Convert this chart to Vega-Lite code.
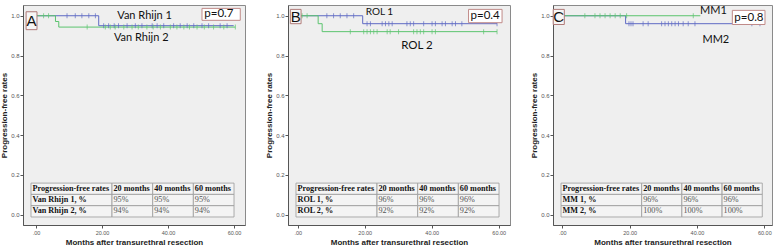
{
"$schema": "https://vega.github.io/schema/vega-lite/v6.json",
"padding": {"left": 0, "top": 4, "right": 0, "bottom": 0},
"bounds": "flush",
"spacing": 43,
"datasets": {
"steps": [
{"panel":"A","group":"Van Rhijn 1","t":0,"s":1},{"panel":"A","group":"Van Rhijn 1","t":19,"s":0.95},{"panel":"A","group":"Van Rhijn 1","t":59.9,"s":0.95},
{"panel":"A","group":"Van Rhijn 2","t":0,"s":1},{"panel":"A","group":"Van Rhijn 2","t":5.9,"s":0.971},{"panel":"A","group":"Van Rhijn 2","t":6.9,"s":0.943},{"panel":"A","group":"Van Rhijn 2","t":60.4,"s":0.943},
{"panel":"B","group":"ROL 1","t":0,"s":1},{"panel":"B","group":"ROL 1","t":19.4,"s":0.96},{"panel":"B","group":"ROL 1","t":59.5,"s":0.96},
{"panel":"B","group":"ROL 2","t":0,"s":1},{"panel":"B","group":"ROL 2","t":6.1,"s":0.96},{"panel":"B","group":"ROL 2","t":7.3,"s":0.92},{"panel":"B","group":"ROL 2","t":59.5,"s":0.92},
{"panel":"C","group":"MM2","t":0,"s":1},{"panel":"C","group":"MM2","t":18.8,"s":0.96},{"panel":"C","group":"MM2","t":59.2,"s":0.96},
{"panel":"C","group":"MM1","t":0,"s":1},{"panel":"C","group":"MM1","t":41,"s":1}
],
"cens": [
{"panel":"A","group":"Van Rhijn 1","t":9.4,"s":1},{"panel":"A","group":"Van Rhijn 1","t":11.9,"s":1},{"panel":"A","group":"Van Rhijn 1","t":13.9,"s":1},{"panel":"A","group":"Van Rhijn 1","t":16,"s":1},{"panel":"A","group":"Van Rhijn 1","t":18,"s":1},
{"panel":"A","group":"Van Rhijn 1","t":20.5,"s":0.95},{"panel":"A","group":"Van Rhijn 1","t":22,"s":0.95},{"panel":"A","group":"Van Rhijn 1","t":23.7,"s":0.95},{"panel":"A","group":"Van Rhijn 1","t":25,"s":0.95},{"panel":"A","group":"Van Rhijn 1","t":27.6,"s":0.95},{"panel":"A","group":"Van Rhijn 1","t":30.1,"s":0.95},{"panel":"A","group":"Van Rhijn 1","t":32.1,"s":0.95},{"panel":"A","group":"Van Rhijn 1","t":35.2,"s":0.95},{"panel":"A","group":"Van Rhijn 1","t":36.7,"s":0.95},{"panel":"A","group":"Van Rhijn 1","t":38.7,"s":0.95},{"panel":"A","group":"Van Rhijn 1","t":41.7,"s":0.95},{"panel":"A","group":"Van Rhijn 1","t":43.7,"s":0.95},{"panel":"A","group":"Van Rhijn 1","t":45.8,"s":0.95},{"panel":"A","group":"Van Rhijn 1","t":47.8,"s":0.95},{"panel":"A","group":"Van Rhijn 1","t":50.3,"s":0.95},{"panel":"A","group":"Van Rhijn 1","t":52.3,"s":0.95},{"panel":"A","group":"Van Rhijn 1","t":55.8,"s":0.95},{"panel":"A","group":"Van Rhijn 1","t":57.9,"s":0.95},
{"panel":"A","group":"Van Rhijn 2","t":2.3,"s":1},{"panel":"A","group":"Van Rhijn 2","t":3.8,"s":1},
{"panel":"A","group":"Van Rhijn 2","t":15.5,"s":0.943},{"panel":"A","group":"Van Rhijn 2","t":21,"s":0.943},{"panel":"A","group":"Van Rhijn 2","t":22.5,"s":0.943},{"panel":"A","group":"Van Rhijn 2","t":24,"s":0.943},{"panel":"A","group":"Van Rhijn 2","t":26.6,"s":0.943},{"panel":"A","group":"Van Rhijn 2","t":29.1,"s":0.943},{"panel":"A","group":"Van Rhijn 2","t":31,"s":0.943},{"panel":"A","group":"Van Rhijn 2","t":33.6,"s":0.943},{"panel":"A","group":"Van Rhijn 2","t":35.5,"s":0.943},{"panel":"A","group":"Van Rhijn 2","t":37.7,"s":0.943},{"panel":"A","group":"Van Rhijn 2","t":40.7,"s":0.943},{"panel":"A","group":"Van Rhijn 2","t":42.7,"s":0.943},{"panel":"A","group":"Van Rhijn 2","t":44.8,"s":0.943},{"panel":"A","group":"Van Rhijn 2","t":46.5,"s":0.943},{"panel":"A","group":"Van Rhijn 2","t":48.8,"s":0.943},{"panel":"A","group":"Van Rhijn 2","t":51,"s":0.943},{"panel":"A","group":"Van Rhijn 2","t":53.8,"s":0.943},{"panel":"A","group":"Van Rhijn 2","t":56.9,"s":0.943},{"panel":"A","group":"Van Rhijn 2","t":60.4,"s":0.943},
{"panel":"B","group":"ROL 1","t":8.7,"s":1},{"panel":"B","group":"ROL 1","t":10.7,"s":1},{"panel":"B","group":"ROL 1","t":12.7,"s":1},{"panel":"B","group":"ROL 1","t":14.7,"s":1},{"panel":"B","group":"ROL 1","t":16.7,"s":1},
{"panel":"B","group":"ROL 1","t":20.7,"s":0.96},{"panel":"B","group":"ROL 1","t":21.7,"s":0.96},{"panel":"B","group":"ROL 1","t":25.2,"s":0.96},{"panel":"B","group":"ROL 1","t":26.2,"s":0.96},{"panel":"B","group":"ROL 1","t":27.2,"s":0.96},{"panel":"B","group":"ROL 1","t":28.2,"s":0.96},{"panel":"B","group":"ROL 1","t":32.6,"s":0.96},{"panel":"B","group":"ROL 1","t":33.6,"s":0.96},{"panel":"B","group":"ROL 1","t":34.6,"s":0.96},{"panel":"B","group":"ROL 1","t":37.6,"s":0.96},{"panel":"B","group":"ROL 1","t":40.1,"s":0.96},{"panel":"B","group":"ROL 1","t":41.1,"s":0.96},{"panel":"B","group":"ROL 1","t":43.1,"s":0.96},{"panel":"B","group":"ROL 1","t":44.1,"s":0.96},{"panel":"B","group":"ROL 1","t":46.1,"s":0.96},{"panel":"B","group":"ROL 1","t":47.1,"s":0.96},{"panel":"B","group":"ROL 1","t":49,"s":0.96},{"panel":"B","group":"ROL 1","t":59.5,"s":0.96},
{"panel":"B","group":"ROL 2","t":1.3,"s":1},{"panel":"B","group":"ROL 2","t":2.8,"s":1},
{"panel":"B","group":"ROL 2","t":15.7,"s":0.92},{"panel":"B","group":"ROL 2","t":19.7,"s":0.92},{"panel":"B","group":"ROL 2","t":20.7,"s":0.92},{"panel":"B","group":"ROL 2","t":21.7,"s":0.92},{"panel":"B","group":"ROL 2","t":22.7,"s":0.92},{"panel":"B","group":"ROL 2","t":23.7,"s":0.92},{"panel":"B","group":"ROL 2","t":26.7,"s":0.92},{"panel":"B","group":"ROL 2","t":27.6,"s":0.92},{"panel":"B","group":"ROL 2","t":30.1,"s":0.92},{"panel":"B","group":"ROL 2","t":34.6,"s":0.92},{"panel":"B","group":"ROL 2","t":35.6,"s":0.92},{"panel":"B","group":"ROL 2","t":36.6,"s":0.92},{"panel":"B","group":"ROL 2","t":37.6,"s":0.92},{"panel":"B","group":"ROL 2","t":40.1,"s":0.92},{"panel":"B","group":"ROL 2","t":41.1,"s":0.92},{"panel":"B","group":"ROL 2","t":55.5,"s":0.92},{"panel":"B","group":"ROL 2","t":59.5,"s":0.92},
{"panel":"C","group":"MM2","t":19.8,"s":0.96},{"panel":"C","group":"MM2","t":20.4,"s":0.96},{"panel":"C","group":"MM2","t":21,"s":0.96},{"panel":"C","group":"MM2","t":24,"s":0.96},{"panel":"C","group":"MM2","t":25.5,"s":0.96},{"panel":"C","group":"MM2","t":29.5,"s":0.96},{"panel":"C","group":"MM2","t":30.5,"s":0.96},{"panel":"C","group":"MM2","t":31.5,"s":0.96},{"panel":"C","group":"MM2","t":32.5,"s":0.96},{"panel":"C","group":"MM2","t":33.5,"s":0.96},{"panel":"C","group":"MM2","t":34.5,"s":0.96},{"panel":"C","group":"MM2","t":35.9,"s":0.96},{"panel":"C","group":"MM2","t":37.4,"s":0.96},{"panel":"C","group":"MM2","t":39.4,"s":0.96},{"panel":"C","group":"MM2","t":56.3,"s":0.96},{"panel":"C","group":"MM2","t":58.7,"s":0.96},
{"panel":"C","group":"MM1","t":6.7,"s":1},{"panel":"C","group":"MM1","t":9.7,"s":1},{"panel":"C","group":"MM1","t":11.2,"s":1},{"panel":"C","group":"MM1","t":12.7,"s":1},{"panel":"C","group":"MM1","t":14.2,"s":1},{"panel":"C","group":"MM1","t":15.7,"s":1},{"panel":"C","group":"MM1","t":17.2,"s":1},{"panel":"C","group":"MM1","t":19.1,"s":1},{"panel":"C","group":"MM1","t":38.9,"s":1}
],
"table": [
{"panel":"A","row":"h","col":"label","text":"Progression-free rates"},{"panel":"A","row":"h","col":"20 months","text":"20 months"},{"panel":"A","row":"h","col":"40 months","text":"40 months"},{"panel":"A","row":"h","col":"60 months","text":"60 months"},
{"panel":"A","row":"g1","col":"label","text":"Van Rhijn 1, %"},{"panel":"A","row":"g1","col":"20 months","text":"95%"},{"panel":"A","row":"g1","col":"40 months","text":"95%"},{"panel":"A","row":"g1","col":"60 months","text":"95%"},
{"panel":"A","row":"g2","col":"label","text":"Van Rhijn 2, %"},{"panel":"A","row":"g2","col":"20 months","text":"94%"},{"panel":"A","row":"g2","col":"40 months","text":"94%"},{"panel":"A","row":"g2","col":"60 months","text":"94%"},
{"panel":"B","row":"h","col":"label","text":"Progression-free rates"},{"panel":"B","row":"h","col":"20 months","text":"20 months"},{"panel":"B","row":"h","col":"40 months","text":"40 months"},{"panel":"B","row":"h","col":"60 months","text":"60 months"},
{"panel":"B","row":"g1","col":"label","text":"ROL 1, %"},{"panel":"B","row":"g1","col":"20 months","text":"96%"},{"panel":"B","row":"g1","col":"40 months","text":"96%"},{"panel":"B","row":"g1","col":"60 months","text":"96%"},
{"panel":"B","row":"g2","col":"label","text":"ROL 2, %"},{"panel":"B","row":"g2","col":"20 months","text":"92%"},{"panel":"B","row":"g2","col":"40 months","text":"92%"},{"panel":"B","row":"g2","col":"60 months","text":"92%"},
{"panel":"C","row":"h","col":"label","text":"Progression-free rates"},{"panel":"C","row":"h","col":"20 months","text":"20 months"},{"panel":"C","row":"h","col":"40 months","text":"40 months"},{"panel":"C","row":"h","col":"60 months","text":"60 months"},
{"panel":"C","row":"g1","col":"label","text":"MM 1, %"},{"panel":"C","row":"g1","col":"20 months","text":"96%"},{"panel":"C","row":"g1","col":"40 months","text":"96%"},{"panel":"C","row":"g1","col":"60 months","text":"96%"},
{"panel":"C","row":"g2","col":"label","text":"MM 2, %"},{"panel":"C","row":"g2","col":"20 months","text":"100%"},{"panel":"C","row":"g2","col":"40 months","text":"100%"},{"panel":"C","row":"g2","col":"60 months","text":"100%"}
]
},
"hconcat": [
{
"width": 222, "height": 220,
"layer": [
{"layer": [
{"data": {"name": "steps"}, "transform": [{"filter": "datum.panel == 'A'"}],
 "mark": {"type": "line", "interpolate": "step-after", "strokeWidth": 1},
 "encoding": {
  "x": {"field": "t", "type": "quantitative", "scale": {"domain": [-3.94, 63.33], "nice": false, "zero": false}, "axis": {"title": "Months after transurethral resection", "values": [0,10,20,30,40,50,60], "labelExpr": "datum.value == 0 ? '.00' : format(datum.value, '.2f')"}},
  "y": {"field": "s", "type": "quantitative", "scale": {"domain": [-0.052, 1.054], "nice": false, "zero": false}, "axis": {"title": "Progression-free rates", "values": [0,0.2,0.4,0.6,0.8,1], "format": ".1f"}},
  "color": {"field": "group", "type": "nominal", "scale": {"domain": ["Van Rhijn 1", "Van Rhijn 2"], "range": ["#5f6bc4", "#5cc46f"]}, "legend": null}
 }},
{"data": {"name": "cens"}, "transform": [{"filter": "datum.panel == 'A'"}],
 "mark": {"type": "tick", "orient": "vertical", "size": 5, "thickness": 1},
 "encoding": {"x": {"field": "t", "type": "quantitative"}, "y": {"field": "s", "type": "quantitative"}, "color": {"field": "group", "type": "nominal", "legend": null}}},
{"data": {"values": [{}]}, "mark": {"type": "rect", "fill": "#f6f6f6", "stroke": "#b07a78", "strokeWidth": 1},
 "encoding": {"x": {"datum": -3.0}, "x2": {"datum": 0.3}, "y": {"datum": 1.02}, "y2": {"datum": 0.93}}},
{"data": {"values": [{}]}, "mark": {"type": "text", "text": "A", "font": "Liberation Sans", "fontSize": 15, "color": "#111", "align": "center", "baseline": "middle"},
 "encoding": {"x": {"datum": -1.35}, "y": {"datum": 0.975}}},
{"data": {"values": [{}]}, "mark": {"type": "rect", "fill": "#ffffff", "stroke": "#c08a88", "strokeWidth": 1},
 "encoding": {"x": {"datum": 50.3}, "x2": {"datum": 61.9}, "y": {"datum": 1.037}, "y2": {"datum": 0.977}}},
{"data": {"values": [{}]}, "mark": {"type": "text", "text": "p=0.7", "font": "Lato", "fontSize": 11.5, "color": "#111", "align": "left", "baseline": "middle"},
 "encoding": {"x": {"datum": 51.0}, "y": {"datum": 1.007}}},
{"data": {"values": [{}]}, "mark": {"type": "text", "text": "Van Rhijn 1", "font": "Lato", "fontSize": 11, "color": "#111", "align": "center", "baseline": "middle"},
 "encoding": {"x": {"datum": 32.9}, "y": {"datum": 1.0}}},
{"data": {"values": [{}]}, "mark": {"type": "text", "text": "Van Rhijn 2", "font": "Lato", "fontSize": 11, "color": "#111", "align": "center", "baseline": "middle"},
 "encoding": {"x": {"datum": 31.9}, "y": {"datum": 0.886}}}
]},
{"data": {"name": "table"}, "transform": [{"filter": "datum.panel == 'A' && datum.col == 'label'"}],
 "mark": {"type": "rect", "fill": "#f4f4f4", "stroke": "#9a9a9a", "strokeWidth": 0.8},
 "encoding": {
  "x": {"field": "col", "type": "nominal", "scale": {"type": "band", "domain": ["label"], "paddingInner": 0, "paddingOuter": 0.8704, "align": 0.0567}, "axis": null},
  "y": {"field": "row", "type": "nominal", "scale": {"type": "band", "domain": ["_1","_2","_3","_4","_5","_6","_7","_8","_9","_10","_11","_12","_13","_14","_15","h","g1","g2"], "paddingInner": 0, "paddingOuter": 0.7345, "align": 0.518}, "axis": null}}},
{"data": {"name": "table"}, "transform": [{"filter": "datum.panel == 'A' && datum.col != 'label'"}],
 "mark": {"type": "rect", "fill": "#f4f4f4", "stroke": "#9a9a9a", "strokeWidth": 0.8},
 "encoding": {
  "x": {"field": "col", "type": "nominal", "scale": {"type": "band", "domain": ["_a","20 months","40 months","60 months"], "paddingInner": 0, "paddingOuter": 0.7295, "align": 0.815}, "axis": null},
  "y": {"field": "row", "type": "nominal", "scale": {"type": "band", "domain": ["_1","_2","_3","_4","_5","_6","_7","_8","_9","_10","_11","_12","_13","_14","_15","h","g1","g2"], "paddingInner": 0, "paddingOuter": 0.7345, "align": 0.518}, "axis": null}}},
{"data": {"name": "table"}, "transform": [{"filter": "datum.panel == 'A' && datum.col == 'label'"}],
 "mark": {"type": "text", "align": "left", "baseline": "middle", "dx": 1.5, "font": "Liberation Serif", "fontWeight": "bold", "fontSize": 8.2, "color": "#111"},
 "encoding": {
  "x": {"field": "col", "type": "nominal", "bandPosition": 0, "scale": {"type": "band", "domain": ["label"], "paddingInner": 0, "paddingOuter": 0.8704, "align": 0.0567}, "axis": null},
  "y": {"field": "row", "type": "nominal", "scale": {"type": "band", "domain": ["_1","_2","_3","_4","_5","_6","_7","_8","_9","_10","_11","_12","_13","_14","_15","h","g1","g2"], "paddingInner": 0, "paddingOuter": 0.7345, "align": 0.518}, "axis": null},
  "text": {"field": "text"}}},
{"data": {"name": "table"}, "transform": [{"filter": "datum.panel == 'A' && datum.col != 'label' && datum.row == 'h'"}],
 "mark": {"type": "text", "align": "left", "baseline": "middle", "dx": 1.5, "font": "Liberation Serif", "fontWeight": "bold", "fontSize": 8.2, "color": "#111"},
 "encoding": {
  "x": {"field": "col", "type": "nominal", "bandPosition": 0, "scale": {"type": "band", "domain": ["_a","20 months","40 months","60 months"], "paddingInner": 0, "paddingOuter": 0.7295, "align": 0.815}, "axis": null},
  "y": {"field": "row", "type": "nominal", "scale": {"type": "band", "domain": ["_1","_2","_3","_4","_5","_6","_7","_8","_9","_10","_11","_12","_13","_14","_15","h","g1","g2"], "paddingInner": 0, "paddingOuter": 0.7345, "align": 0.518}, "axis": null},
  "text": {"field": "text"}}},
{"data": {"name": "table"}, "transform": [{"filter": "datum.panel == 'A' && datum.col != 'label' && datum.row != 'h'"}],
 "mark": {"type": "text", "align": "left", "baseline": "middle", "dx": 1.5, "font": "Liberation Serif", "fontSize": 8.2, "color": "#555"},
 "encoding": {
  "x": {"field": "col", "type": "nominal", "bandPosition": 0, "scale": {"type": "band", "domain": ["_a","20 months","40 months","60 months"], "paddingInner": 0, "paddingOuter": 0.7295, "align": 0.815}, "axis": null},
  "y": {"field": "row", "type": "nominal", "scale": {"type": "band", "domain": ["_1","_2","_3","_4","_5","_6","_7","_8","_9","_10","_11","_12","_13","_14","_15","h","g1","g2"], "paddingInner": 0, "paddingOuter": 0.7345, "align": 0.518}, "axis": null},
  "text": {"field": "text"}}}
],
"resolve": {"scale": {"x": "independent", "y": "independent"}}
},
{
"width": 222, "height": 220,
"layer": [
{"layer": [
{"data": {"name": "steps"}, "transform": [{"filter": "datum.panel == 'B'"}],
 "mark": {"type": "line", "interpolate": "step-after", "strokeWidth": 1},
 "encoding": {
  "x": {"field": "t", "type": "quantitative", "scale": {"domain": [-2.9, 63.37], "nice": false, "zero": false}, "axis": {"title": "Months after transurethral resection", "values": [0,10,20,30,40,50,60], "labelExpr": "datum.value == 0 ? '.00' : format(datum.value, '.2f')"}},
  "y": {"field": "s", "type": "quantitative", "scale": {"domain": [-0.052, 1.054], "nice": false, "zero": false}, "axis": {"title": "Progression-free rates", "values": [0,0.2,0.4,0.6,0.8,1], "format": ".1f"}},
  "color": {"field": "group", "type": "nominal", "scale": {"domain": ["ROL 1", "ROL 2"], "range": ["#5f6bc4", "#5cc46f"]}, "legend": null}
 }},
{"data": {"name": "cens"}, "transform": [{"filter": "datum.panel == 'B'"}],
 "mark": {"type": "tick", "orient": "vertical", "size": 5, "thickness": 1},
 "encoding": {"x": {"field": "t", "type": "quantitative"}, "y": {"field": "s", "type": "quantitative"}, "color": {"field": "group", "type": "nominal", "legend": null}}},
{"data": {"values": [{}]}, "mark": {"type": "rect", "fill": "#f6f6f6", "stroke": "#b07a78", "strokeWidth": 1},
 "encoding": {"x": {"datum": -2.2}, "x2": {"datum": 1.0}, "y": {"datum": 1.032}, "y2": {"datum": 0.96}}},
{"data": {"values": [{}]}, "mark": {"type": "text", "text": "B", "font": "Liberation Sans", "fontSize": 15, "color": "#111", "align": "center", "baseline": "middle"},
 "encoding": {"x": {"datum": -0.6}, "y": {"datum": 0.996}}},
{"data": {"values": [{}]}, "mark": {"type": "rect", "fill": "#ffffff", "stroke": "#c08a88", "strokeWidth": 1},
 "encoding": {"x": {"datum": 51}, "x2": {"datum": 61}, "y": {"datum": 1.032}, "y2": {"datum": 0.965}}},
{"data": {"values": [{}]}, "mark": {"type": "text", "text": "p=0.4", "font": "Lato", "fontSize": 11.5, "color": "#111", "align": "left", "baseline": "middle"},
 "encoding": {"x": {"datum": 51.6}, "y": {"datum": 0.998}}},
{"data": {"values": [{}]}, "mark": {"type": "text", "text": "ROL 1", "font": "Lato", "fontSize": 10, "color": "#111", "align": "center", "baseline": "middle"},
 "encoding": {"x": {"datum": 24.4}, "y": {"datum": 1.019}}},
{"data": {"values": [{}]}, "mark": {"type": "text", "text": "ROL 2", "font": "Lato", "fontSize": 11.5, "color": "#111", "align": "center", "baseline": "middle"},
 "encoding": {"x": {"datum": 35.6}, "y": {"datum": 0.848}}}
]},
{"data": {"name": "table"}, "transform": [{"filter": "datum.panel == 'B' && datum.col == 'label'"}],
 "mark": {"type": "rect", "fill": "#f4f4f4", "stroke": "#9a9a9a", "strokeWidth": 0.8},
 "encoding": {
  "x": {"field": "col", "type": "nominal", "scale": {"type": "band", "domain": ["label"], "paddingInner": 0, "paddingOuter": 0.8704, "align": 0.0567}, "axis": null},
  "y": {"field": "row", "type": "nominal", "scale": {"type": "band", "domain": ["_1","_2","_3","_4","_5","_6","_7","_8","_9","_10","_11","_12","_13","_14","_15","h","g1","g2"], "paddingInner": 0, "paddingOuter": 0.7345, "align": 0.518}, "axis": null}}},
{"data": {"name": "table"}, "transform": [{"filter": "datum.panel == 'B' && datum.col != 'label'"}],
 "mark": {"type": "rect", "fill": "#f4f4f4", "stroke": "#9a9a9a", "strokeWidth": 0.8},
 "encoding": {
  "x": {"field": "col", "type": "nominal", "scale": {"type": "band", "domain": ["_a","20 months","40 months","60 months"], "paddingInner": 0, "paddingOuter": 0.7295, "align": 0.815}, "axis": null},
  "y": {"field": "row", "type": "nominal", "scale": {"type": "band", "domain": ["_1","_2","_3","_4","_5","_6","_7","_8","_9","_10","_11","_12","_13","_14","_15","h","g1","g2"], "paddingInner": 0, "paddingOuter": 0.7345, "align": 0.518}, "axis": null}}},
{"data": {"name": "table"}, "transform": [{"filter": "datum.panel == 'B' && datum.col == 'label'"}],
 "mark": {"type": "text", "align": "left", "baseline": "middle", "dx": 1.5, "font": "Liberation Serif", "fontWeight": "bold", "fontSize": 8.2, "color": "#111"},
 "encoding": {
  "x": {"field": "col", "type": "nominal", "bandPosition": 0, "scale": {"type": "band", "domain": ["label"], "paddingInner": 0, "paddingOuter": 0.8704, "align": 0.0567}, "axis": null},
  "y": {"field": "row", "type": "nominal", "scale": {"type": "band", "domain": ["_1","_2","_3","_4","_5","_6","_7","_8","_9","_10","_11","_12","_13","_14","_15","h","g1","g2"], "paddingInner": 0, "paddingOuter": 0.7345, "align": 0.518}, "axis": null},
  "text": {"field": "text"}}},
{"data": {"name": "table"}, "transform": [{"filter": "datum.panel == 'B' && datum.col != 'label' && datum.row == 'h'"}],
 "mark": {"type": "text", "align": "left", "baseline": "middle", "dx": 1.5, "font": "Liberation Serif", "fontWeight": "bold", "fontSize": 8.2, "color": "#111"},
 "encoding": {
  "x": {"field": "col", "type": "nominal", "bandPosition": 0, "scale": {"type": "band", "domain": ["_a","20 months","40 months","60 months"], "paddingInner": 0, "paddingOuter": 0.7295, "align": 0.815}, "axis": null},
  "y": {"field": "row", "type": "nominal", "scale": {"type": "band", "domain": ["_1","_2","_3","_4","_5","_6","_7","_8","_9","_10","_11","_12","_13","_14","_15","h","g1","g2"], "paddingInner": 0, "paddingOuter": 0.7345, "align": 0.518}, "axis": null},
  "text": {"field": "text"}}},
{"data": {"name": "table"}, "transform": [{"filter": "datum.panel == 'B' && datum.col != 'label' && datum.row != 'h'"}],
 "mark": {"type": "text", "align": "left", "baseline": "middle", "dx": 1.5, "font": "Liberation Serif", "fontSize": 8.2, "color": "#555"},
 "encoding": {
  "x": {"field": "col", "type": "nominal", "bandPosition": 0, "scale": {"type": "band", "domain": ["_a","20 months","40 months","60 months"], "paddingInner": 0, "paddingOuter": 0.7295, "align": 0.815}, "axis": null},
  "y": {"field": "row", "type": "nominal", "scale": {"type": "band", "domain": ["_1","_2","_3","_4","_5","_6","_7","_8","_9","_10","_11","_12","_13","_14","_15","h","g1","g2"], "paddingInner": 0, "paddingOuter": 0.7345, "align": 0.518}, "axis": null},
  "text": {"field": "text"}}}
],
"resolve": {"scale": {"x": "independent", "y": "independent"}}
},
{
"width": 219, "height": 220,
"layer": [
{"layer": [
{"data": {"name": "steps"}, "transform": [{"filter": "datum.panel == 'C'"}],
 "mark": {"type": "line", "interpolate": "step-after", "strokeWidth": 1},
 "encoding": {
  "x": {"field": "t", "type": "quantitative", "scale": {"domain": [-2.76, 62.28], "nice": false, "zero": false}, "axis": {"title": "Months after transurethral resection", "values": [0,10,20,30,40,50,60], "labelExpr": "datum.value == 0 ? '.00' : format(datum.value, '.2f')"}},
  "y": {"field": "s", "type": "quantitative", "scale": {"domain": [-0.052, 1.054], "nice": false, "zero": false}, "axis": {"title": "Progression-free rates", "values": [0,0.2,0.4,0.6,0.8,1], "format": ".1f"}},
  "color": {"field": "group", "type": "nominal", "scale": {"domain": ["MM2", "MM1"], "range": ["#5f6bc4", "#5cc46f"]}, "legend": null}
 }},
{"data": {"name": "cens"}, "transform": [{"filter": "datum.panel == 'C'"}],
 "mark": {"type": "tick", "orient": "vertical", "size": 5, "thickness": 1},
 "encoding": {"x": {"field": "t", "type": "quantitative"}, "y": {"field": "s", "type": "quantitative"}, "color": {"field": "group", "type": "nominal", "legend": null}}},
{"data": {"values": [{}]}, "mark": {"type": "rect", "fill": "#f6f6f6", "stroke": "#b07a78", "strokeWidth": 1},
 "encoding": {"x": {"datum": -2.7}, "x2": {"datum": 0.6}, "y": {"datum": 1.032}, "y2": {"datum": 0.956}}},
{"data": {"values": [{}]}, "mark": {"type": "text", "text": "C", "font": "Liberation Sans", "fontSize": 15, "color": "#111", "align": "center", "baseline": "middle"},
 "encoding": {"x": {"datum": -1.05}, "y": {"datum": 0.994}}},
{"data": {"values": [{}]}, "mark": {"type": "rect", "fill": "#ffffff", "stroke": "#c08a88", "strokeWidth": 1},
 "encoding": {"x": {"datum": 50.5}, "x2": {"datum": 60.2}, "y": {"datum": 1.027}, "y2": {"datum": 0.956}}},
{"data": {"values": [{}]}, "mark": {"type": "text", "text": "p=0.8", "font": "Lato", "fontSize": 11.5, "color": "#111", "align": "left", "baseline": "middle"},
 "encoding": {"x": {"datum": 51.1}, "y": {"datum": 0.991}}},
{"data": {"values": [{}]}, "mark": {"type": "text", "text": "MM1", "font": "Lato", "fontSize": 11, "color": "#111", "align": "center", "baseline": "middle"},
 "encoding": {"x": {"datum": 44.9}, "y": {"datum": 1.022}}},
{"data": {"values": [{}]}, "mark": {"type": "text", "text": "MM2", "font": "Lato", "fontSize": 11, "color": "#111", "align": "center", "baseline": "middle"},
 "encoding": {"x": {"datum": 45.6}, "y": {"datum": 0.878}}}
]},
{"data": {"name": "table"}, "transform": [{"filter": "datum.panel == 'C' && datum.col == 'label'"}],
 "mark": {"type": "rect", "fill": "#f4f4f4", "stroke": "#9a9a9a", "strokeWidth": 0.8},
 "encoding": {
  "x": {"field": "col", "type": "nominal", "scale": {"type": "band", "domain": ["label"], "paddingInner": 0, "paddingOuter": 0.857, "align": 0.058}, "axis": null},
  "y": {"field": "row", "type": "nominal", "scale": {"type": "band", "domain": ["_1","_2","_3","_4","_5","_6","_7","_8","_9","_10","_11","_12","_13","_14","_15","h","g1","g2"], "paddingInner": 0, "paddingOuter": 0.7345, "align": 0.518}, "axis": null}}},
{"data": {"name": "table"}, "transform": [{"filter": "datum.panel == 'C' && datum.col != 'label'"}],
 "mark": {"type": "rect", "fill": "#f4f4f4", "stroke": "#9a9a9a", "strokeWidth": 0.8},
 "encoding": {
  "x": {"field": "col", "type": "nominal", "scale": {"type": "band", "domain": ["_a","20 months","40 months","60 months"], "paddingInner": 0, "paddingOuter": 0.724, "align": 0.833}, "axis": null},
  "y": {"field": "row", "type": "nominal", "scale": {"type": "band", "domain": ["_1","_2","_3","_4","_5","_6","_7","_8","_9","_10","_11","_12","_13","_14","_15","h","g1","g2"], "paddingInner": 0, "paddingOuter": 0.7345, "align": 0.518}, "axis": null}}},
{"data": {"name": "table"}, "transform": [{"filter": "datum.panel == 'C' && datum.col == 'label'"}],
 "mark": {"type": "text", "align": "left", "baseline": "middle", "dx": 1.5, "font": "Liberation Serif", "fontWeight": "bold", "fontSize": 8.2, "color": "#111"},
 "encoding": {
  "x": {"field": "col", "type": "nominal", "bandPosition": 0, "scale": {"type": "band", "domain": ["label"], "paddingInner": 0, "paddingOuter": 0.857, "align": 0.058}, "axis": null},
  "y": {"field": "row", "type": "nominal", "scale": {"type": "band", "domain": ["_1","_2","_3","_4","_5","_6","_7","_8","_9","_10","_11","_12","_13","_14","_15","h","g1","g2"], "paddingInner": 0, "paddingOuter": 0.7345, "align": 0.518}, "axis": null},
  "text": {"field": "text"}}},
{"data": {"name": "table"}, "transform": [{"filter": "datum.panel == 'C' && datum.col != 'label' && datum.row == 'h'"}],
 "mark": {"type": "text", "align": "left", "baseline": "middle", "dx": 1.5, "font": "Liberation Serif", "fontWeight": "bold", "fontSize": 8.2, "color": "#111"},
 "encoding": {
  "x": {"field": "col", "type": "nominal", "bandPosition": 0, "scale": {"type": "band", "domain": ["_a","20 months","40 months","60 months"], "paddingInner": 0, "paddingOuter": 0.724, "align": 0.833}, "axis": null},
  "y": {"field": "row", "type": "nominal", "scale": {"type": "band", "domain": ["_1","_2","_3","_4","_5","_6","_7","_8","_9","_10","_11","_12","_13","_14","_15","h","g1","g2"], "paddingInner": 0, "paddingOuter": 0.7345, "align": 0.518}, "axis": null},
  "text": {"field": "text"}}},
{"data": {"name": "table"}, "transform": [{"filter": "datum.panel == 'C' && datum.col != 'label' && datum.row != 'h'"}],
 "mark": {"type": "text", "align": "left", "baseline": "middle", "dx": 1.5, "font": "Liberation Serif", "fontSize": 8.2, "color": "#555"},
 "encoding": {
  "x": {"field": "col", "type": "nominal", "bandPosition": 0, "scale": {"type": "band", "domain": ["_a","20 months","40 months","60 months"], "paddingInner": 0, "paddingOuter": 0.724, "align": 0.833}, "axis": null},
  "y": {"field": "row", "type": "nominal", "scale": {"type": "band", "domain": ["_1","_2","_3","_4","_5","_6","_7","_8","_9","_10","_11","_12","_13","_14","_15","h","g1","g2"], "paddingInner": 0, "paddingOuter": 0.7345, "align": 0.518}, "axis": null},
  "text": {"field": "text"}}}
],
"resolve": {"scale": {"x": "independent", "y": "independent"}}
}
],
"resolve": {"scale": {"color": "independent"}},
"config": {
 "view": {"stroke": "#8a8a8a", "fill": "#efefef"},
 "axis": {"labelFont": "Liberation Sans", "titleFont": "Liberation Sans", "labelFontSize": 6, "labelColor": "#555", "tickSize": 3, "tickColor": "#555", "domainColor": "#555", "titleFontSize": 8, "titleFontWeight": "bold", "titleColor": "#222", "grid": false},
 "axisX": {"labelPadding": 2, "titlePadding": 3, "labelFontSize": 5.5},
 "axisY": {"labelPadding": 1, "titlePadding": 2}
}
}
